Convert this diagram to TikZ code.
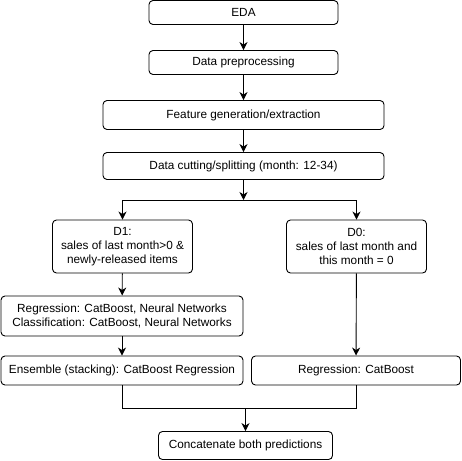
\documentclass[tikz,border=0pt]{standalone}
\usepackage{fontspec}
\setmainfont{Liberation Sans}
\usetikzlibrary{arrows.meta}

\begin{document}
\begin{tikzpicture}[x=1pt, y=-1pt,
    step node/.style={draw, rounded corners=4pt, line width=0.9pt, align=center, inner sep=2pt, font=\fontsize{11.8}{14}\selectfont, text=black},
    flow/.style={draw, line width=0.9pt, -{Stealth[length=8pt, width=8pt, inset=2.5pt]}},
    link/.style={draw, line width=0.9pt}]

    \useasboundingbox (0,0) rectangle (462,460);

    % tronc commun
    \node[step node, minimum width=189pt, minimum height=24pt] (eda) at (243.5,12.5) {EDA};
    \node[step node, minimum width=189pt, minimum height=24pt] (prep) at (243.5,62.5) {Data preprocessing};
    \node[step node, minimum width=281pt, minimum height=29pt] (feat) at (243.5,115) {Feature generation/extraction};
    \node[step node, minimum width=281pt, minimum height=27pt] (cut) at (243.5,166) {Data cutting/splitting (month: 12-34)};

    \draw[flow] (eda) -- (prep);
    \draw[flow] (prep) -- (feat);
    \draw[flow] (feat) -- (cut);

    % separation D1 / D0
    \coordinate (split) at (243.5,200);
    \node[step node, minimum width=140pt, minimum height=53pt] (d1) at (122.5,246.5) {D1:\\sales of last month>0 \&\\newly-released items};
    \node[step node, minimum width=140pt, minimum height=53pt] (d0) at (356.5,246.5) {D0:\\sales of last month and\\this month = 0};

    \draw[flow] (cut) -- (split);
    \draw[flow] (split) -| (d1);
    \draw[flow] (split) -| (d0);

    % modeles
    \node[step node, minimum width=242pt, minimum height=40pt] (models) at (122,316) {Regression: CatBoost, Neural Networks\\Classification: CatBoost, Neural Networks};
    \node[step node, minimum width=242pt, minimum height=29pt] (ens) at (122,370.5) {Ensemble (stacking): CatBoost Regression};
    \node[step node, minimum width=209pt, minimum height=29pt] (reg) at (356,370.5) {Regression: CatBoost};

    \draw[flow] (d1) -- (models);
    \draw[flow] (models) -- (ens);
    \draw[flow] (d0) -- (reg);

    % fusion
    \coordinate (merge) at (245.5,408);
    \node[step node, minimum width=174pt, minimum height=28pt] (concat) at (245.5,445.5) {Concatenate both predictions};

    \draw[link] (ens) |- (merge);
    \draw[link] (reg) |- (merge);
    \draw[flow] (merge) -- (concat);
\end{tikzpicture}
\end{document}
